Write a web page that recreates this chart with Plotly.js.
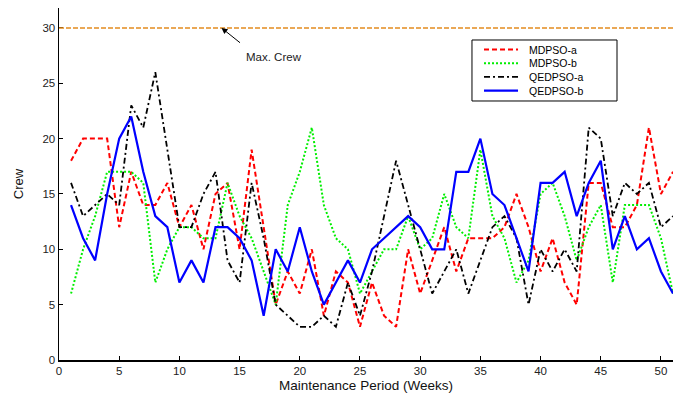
<!DOCTYPE html>
<html>
<head>
<meta charset="utf-8">
<script src="https://cdn.plot.ly/plotly-3.0.1.min.js"></script>
<style>html,body{margin:0;padding:0;background:#fff;}#chart{width:676px;height:393px;}</style>
</head>
<body>
<div id="chart"></div>
<script>
const weeks = [1,2,3,4,5,6,7,8,9,10,11,12,13,14,15,16,17,18,19,20,21,22,23,24,25,26,27,28,29,30,31,32,33,34,35,36,37,38,39,40,41,42,43,44,45,46,47,48,49,50,51];
const mdpsoA = [18,20,20,20,12,17,14,14,16,12,14,10,15,16,10,19,12,5,8,6,10,4,8,7,3,7,4,3,10,6,9,12,8,11,11,11,12,15,12,8,11,7,5,16,16,12,12,14,21,15,17];
const mdpsoB = [6,10,13,17,17,17,16,7,10,12,12,11,11,16,13,11,8,5,14,17,21,14,11,10,6,8,10,10,13,10,11,15,12,11,19,13,11,7,9,15,16,13,9,12,14,7,14,14,14,11,6];
const qedpsoA = [16,13,14,15,14,23,21,26,19,12,12,15,17,9,7,16,11,5,4,3,3,4,3,7,4,8,13,18,14,10,6,8,10,6,9,12,13,11,5,10,8,10,8,21,20,13,16,15,16,12,13];
const qedpsoB = [14,11,9,15,20,22,17,13,12,7,9,7,12,12,11,9,4,10,8,12,8,5,7,9,7,10,11,12,13,12,10,10,17,17,20,15,14,11,8,16,16,17,13,16,18,10,13,10,11,8,6];
const seriesNames = ["MDPSO-a","MDPSO-b","QEDPSO-a","QEDPSO-b"];
const maxCrew = 30;
const xTicks = [0,5,10,15,20,25,30,35,40,45,50];
const yTicks = [0,5,10,15,20,25,30];

const font = "Liberation Sans, Arial, sans-serif";
const styles = [
  {color: "#ff0000", width: 2, dash: "5px,3px"},
  {color: "#00ee00", width: 2, dash: "2px,2px"},
  {color: "#000000", width: 1.8, dash: "6px,3px,2px,3px"},
  {color: "#0000ff", width: 2.2, dash: "solid"}
];
const seriesData = [mdpsoA, mdpsoB, qedpsoA, qedpsoB];
const traces = seriesData.map((ys, i) => ({x: weeks, y: ys, name: seriesNames[i], mode: "lines", line: styles[i], showlegend: false}));

// hand-built legend box (paper coordinates)
const leg = {x0: 0.6726, x1: 0.9088, y0: 0.7358, y1: 0.9091, sx0: 0.6922, sx1: 0.7476, tx: 0.7638, rows: [0.8821, 0.8432, 0.8043, 0.7653]};
const shapes = [
  {type: "line", xref: "paper", x0: 0, x1: 1, yref: "y", y0: maxCrew, y1: maxCrew, line: {color: "#e38c1f", width: 1.5, dash: "5px,2px"}},
  {type: "rect", xref: "paper", yref: "paper", x0: leg.x0, x1: leg.x1, y0: leg.y0, y1: leg.y1, line: {color: "#000", width: 1}, fillcolor: "#fff", layer: "above"}
];
const annotations = [
  {x: 13.5, y: maxCrew, xref: "x", yref: "y", text: "", showarrow: true, arrowhead: 2, arrowsize: 1.2, arrowwidth: 1, arrowcolor: "#000", ax: 20, ay: 16},
  {x: 15.4, y: 27.4, xref: "x", yref: "y", text: "Max. Crew", showarrow: false, xanchor: "left", yanchor: "middle", font: {family: font, size: 11.5, color: "#222"}}
];
seriesNames.forEach((nm, i) => {
  shapes.push({type: "line", xref: "paper", yref: "paper", x0: leg.sx0, x1: leg.sx1, y0: leg.rows[i], y1: leg.rows[i], line: styles[i], layer: "above"});
  annotations.push({xref: "paper", yref: "paper", x: leg.tx, y: leg.rows[i], text: nm, showarrow: false, xanchor: "left", yanchor: "middle",
                    borderpad: 0, font: {family: font, size: 10.5, color: "#000"}});
});

const layout = {
  width: 676, height: 393,
  margin: {l: 59, r: 3, t: 8, b: 33},
  paper_bgcolor: "#fff", plot_bgcolor: "#fff",
  font: {family: font, size: 11, color: "#222"},
  showlegend: false,
  xaxis: {range: [0, 51], tickvals: xTicks, ticks: "inside", ticklen: 4, tickcolor: "#000", showline: true, linecolor: "#000", linewidth: 1.5,
          showgrid: false, zeroline: false, tickfont: {family: font, size: 11.5, color: "#222"},
          title: {text: "Maintenance Period (Weeks)", font: {family: font, size: 13.5, color: "#111"}, standoff: 4}},
  yaxis: {range: [0, 31.8], tickvals: yTicks, ticks: "inside", ticklen: 4, tickcolor: "#000", showline: true, linecolor: "#000", linewidth: 1.5,
          showgrid: false, zeroline: false, tickfont: {family: font, size: 11.5, color: "#222"},
          title: {text: "Crew", font: {family: font, size: 13, color: "#111"}, standoff: 16}},
  shapes: shapes,
  annotations: annotations
};
Plotly.newPlot("chart", traces, layout, {displayModeBar: false, staticPlot: true});
</script>
</body>
</html>
